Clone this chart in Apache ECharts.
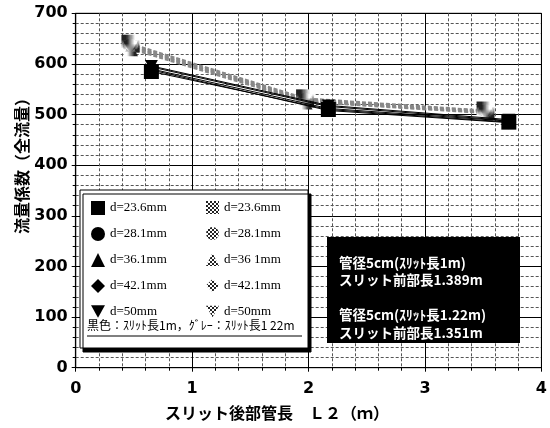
<!DOCTYPE html>
<html><head><meta charset="utf-8">
<script src="https://cdn.jsdelivr.net/npm/echarts@6/dist/echarts.min.js"></script>
<style>html,body{margin:0;padding:0;background:#fff}#c{width:550px;height:428px}</style>
</head><body><div id="c"></div>
<script>
// ---- data ----
var dLabels = ['d=23.6mm', 'd=28.1mm', 'd=36.1mm', 'd=42.1mm', 'd=50mm'];
var grayLabels = ['d=23.6mm', 'd=28.1mm', 'd=36 1mm', 'd=42.1mm', 'd=50mm'];
var blackX = [0.65, 2.17, 3.72];
var grayX = [0.47, 1.97, 3.52];
var black236 = [585, 510, 485];
var black281 = [590, 512, 487];
var black361 = [594, 516, 488];
var black421 = [588, 508, 484];
var black50  = [596, 518, 490];
var gray236 = [640, 532, 508];
var gray281 = [635, 528, 505];
var gray361 = [630, 525, 503];
var gray421 = [637, 530, 506];
var gray50  = [633, 527, 504];
var yTicks = [0, 100, 200, 300, 400, 500, 600, 700];
var xTicks = [0, 1, 2, 3, 4];
var legendNote = '黒色：ｽﾘｯﾄ長1m，ｸﾞﾚｰ：ｽﾘｯﾄ長1 22m';
var boxLines = ['管径5cm(ｽﾘｯﾄ長1m)', 'スリット前部長1.389m', '', '管径5cm(ｽﾘｯﾄ長1.22m)', 'スリット前部長1.351m'];
var xName = 'スリット後部管長　Ｌ２（ｍ）';
var yName = '流量係数（全流量）';

// ---- build ----
var blackVals = [black236, black281, black361, black421, black50];
var grayVals = [gray236, gray281, gray361, gray421, gray50];
var invTri = 'path://M0,0 L10,0 L5,9 Z';
var symbols = ['rect', 'circle', 'triangle', 'diamond', invTri];

var cv = document.createElement('canvas');
cv.width = 4; cv.height = 4;
var cx = cv.getContext('2d');
cx.fillStyle = '#fff'; cx.fillRect(0, 0, 4, 4);
cx.fillStyle = '#222'; cx.fillRect(0, 0, 2, 2); cx.fillRect(2, 2, 2, 2);
var checker = { image: cv, repeat: 'repeat' };

function pairs(xs, ys) { return xs.map(function (x, i) { return [x, ys[i]]; }); }

var series = [];
grayVals.forEach(function (v, i) {
  series.push({
    name: 'g' + i, type: 'line', data: pairs(grayX, v),
    symbol: symbols[i], symbolSize: i === 0 ? 18 : 15, symbolKeepAspect: true,
    itemStyle: { color: checker, borderWidth: 0 },
    lineStyle: { color: '#888', width: 2, type: [4, 2] },
    z: 2
  });
});
blackVals.forEach(function (v, i) {
  series.push({
    name: 'b' + i, type: 'line', data: pairs(blackX, v),
    symbol: symbols[i], symbolSize: i === 0 ? 15 : 13, symbolKeepAspect: true,
    itemStyle: { color: '#000' },
    lineStyle: { color: '#000', width: 1 },
    z: 3
  });
});

var fmt = function (name) {
  var i = +name.slice(1);
  return name[0] === 'b' ? dLabels[i] : grayLabels[i];
};
var legendText = { fontFamily: 'Liberation Serif', fontSize: 13, color: '#000' };
var tickFont = { fontFamily: 'DejaVu Sans', fontWeight: 'bold', fontSize: 16, color: '#000' };

var chart = echarts.init(document.getElementById('c'));
chart.setOption({
  animation: false,
  grid: { left: 75.7, right: 7, top: 13.3, bottom: 60.3, show: true, borderColor: '#000', borderWidth: 1 },
  xAxis: {
    type: 'value', min: 0, max: 4, interval: 1, minorTick: { show: true, splitNumber: 5, length: 3, lineStyle: { color: '#000' } },
    axisLine: { show: true, lineStyle: { color: '#000', width: 1.2 } },
    axisTick: { show: true, length: 4, lineStyle: { color: '#000' } },
    axisLabel: Object.assign({ margin: 13,
      formatter: function (v) { return xTicks.indexOf(v) >= 0 ? String(v) : ''; } }, tickFont),
    splitLine: { show: true, lineStyle: { color: '#000', width: 1 } },
    minorSplitLine: { show: true, lineStyle: { color: '#555', width: 1, type: [3, 2] } }
  },
  yAxis: {
    type: 'value', min: 0, max: 700, interval: 100, minorTick: { show: true, splitNumber: 5, length: 3, lineStyle: { color: '#000' } },
    axisLine: { show: true, lineStyle: { color: '#000', width: 1.2 } },
    axisTick: { show: true, length: 4, lineStyle: { color: '#000' } },
    axisLabel: Object.assign({ margin: 8,
      formatter: function (v) { return yTicks.indexOf(v) >= 0 ? String(v) : ''; } }, tickFont),
    splitLine: { show: true, lineStyle: { color: '#000', width: 1 } },
    minorSplitLine: { show: true, lineStyle: { color: '#555', width: 1, type: [3, 2] } }
  },
  legend: [
    { data: ['b0', 'b1', 'b2', 'b3', 'b4'].map(function (n, i) { return { name: n, icon: symbols[i] }; }),
      orient: 'vertical', left: 86, top: 196, itemWidth: 14, itemHeight: 14, itemGap: 12,
      formatter: fmt, textStyle: legendText, z: 20, selectedMode: false },
    { data: ['g0', 'g1', 'g2', 'g3', 'g4'].map(function (n, i) { return { name: n, icon: symbols[i] }; }),
      orient: 'vertical', left: 201, top: 196, itemWidth: 13, itemHeight: 13, itemGap: 13,
      formatter: fmt, textStyle: legendText, z: 20, selectedMode: false }
  ],
  graphic: [
    { type: 'rect', z: 10, shape: { x: 80, y: 190, width: 228, height: 158 },
      style: { fill: '#fff', stroke: '#000', lineWidth: 1, shadowColor: '#000', shadowOffsetX: 3, shadowOffsetY: 4, shadowBlur: 0 } },
    { type: 'text', z: 21, left: 87, top: 319,
      style: { text: legendNote, font: '12px "Noto Sans CJK JP"', fill: '#000' } },
    { type: 'line', z: 21, shape: { x1: 87, y1: 336, x2: 302, y2: 336 }, style: { stroke: '#000', lineWidth: 1 } },
    { type: 'rect', z: 10, shape: { x: 327, y: 237, width: 193, height: 106 }, style: { fill: '#000' } },
    { type: 'text', z: 21, left: 339, top: 254,
      style: { text: boxLines.join('\n'), font: 'bold 13.5px "Noto Sans CJK JP"', lineHeight: 17.5, fill: '#fff' } },
    { type: 'text', z: 21, x: 22, y: 162, rotation: Math.PI / 2,
      style: { text: yName, font: 'bold 16px "Noto Sans CJK JP"', fill: '#000', align: 'center', verticalAlign: 'middle' } },
    { type: 'text', z: 21, x: 277, y: 413,
      style: { text: xName, font: 'bold 16px "Noto Sans CJK JP"', fill: '#000', align: 'center', verticalAlign: 'middle' } }
  ],
  series: series
});
</script></body></html>
